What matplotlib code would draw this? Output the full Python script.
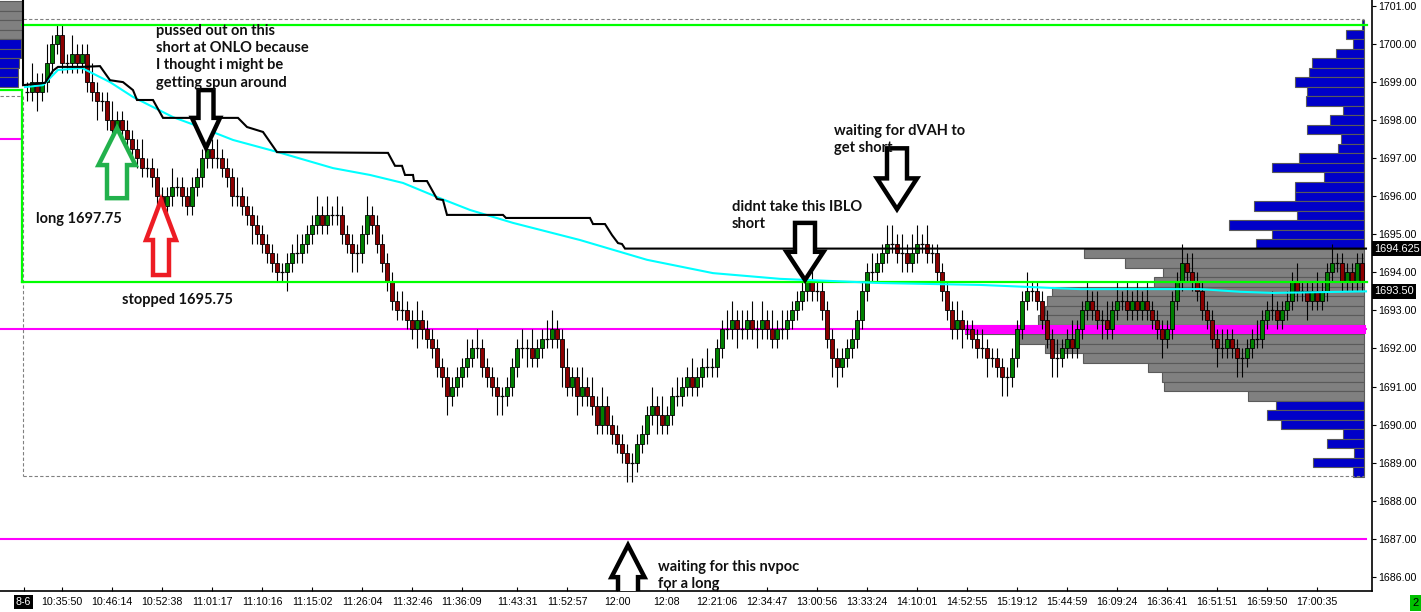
import matplotlib
matplotlib.use('Agg')
import matplotlib.pyplot as plt
from matplotlib.patches import Polygon
import matplotlib.transforms as mtransforms
import numpy as np

# ---------------- data ----------------
TICK = 0.25
first_open = 1698.75
closes = [
    1698.75, 1699.0, 1698.75, 1699.0, 1699.5, 1700.0, 1700.25, 1699.5, 1699.5, 1699.75,
    1699.5, 1699.75, 1699.0, 1698.75, 1698.5, 1698.5, 1698.0, 1697.75, 1698.0, 1697.75,
    1697.5, 1697.25, 1697.0, 1696.75, 1696.75, 1696.5, 1696.0, 1695.75, 1696.0, 1696.25,
    1696.25, 1696.0, 1695.75, 1696.25, 1696.5, 1697.0, 1697.25, 1697.0, 1697.0, 1696.75,
    1696.5, 1696.0, 1696.0, 1695.75, 1695.5, 1695.25, 1695.0, 1694.75, 1694.5, 1694.25,
    1694.0, 1694.0, 1694.25, 1694.5, 1694.5, 1694.75, 1695.0, 1695.25, 1695.5, 1695.25,
    1695.5, 1695.5, 1695.5, 1695.0, 1694.75, 1694.5, 1694.5, 1695.0, 1695.5, 1695.25,
    1694.75, 1694.25, 1693.75, 1693.25, 1693.0, 1693.0, 1692.75, 1692.5, 1692.75, 1692.5,
    1692.25, 1692.0, 1691.5, 1691.25, 1690.75, 1691.0, 1691.25, 1691.5, 1691.75, 1692.0,
    1692.0, 1691.5, 1691.25, 1691.0, 1690.75, 1690.75, 1691.0, 1691.5, 1692.0, 1692.0,
    1692.0, 1691.75, 1692.0, 1692.25, 1692.25, 1692.5, 1692.25, 1691.5, 1691.0, 1691.25,
    1690.75, 1691.0, 1690.75, 1690.5, 1690.0, 1690.5, 1690.0, 1689.75, 1689.5, 1689.25,
    1689.0, 1689.0, 1689.5, 1689.75, 1690.25, 1690.5, 1690.25, 1690.0, 1690.25, 1690.75,
    1690.75, 1691.0, 1691.25, 1691.0, 1691.25, 1691.5, 1691.5, 1691.5, 1692.0, 1692.5,
    1692.5, 1692.75, 1692.5, 1692.5, 1692.75, 1692.5, 1692.5, 1692.75, 1692.5, 1692.25,
    1692.5, 1692.5, 1692.75, 1693.0, 1693.25, 1693.5, 1693.75, 1693.5, 1693.5, 1693.0,
    1692.25, 1691.75, 1691.5, 1691.75, 1692.0, 1692.25, 1692.75, 1693.5, 1694.0, 1694.0,
    1694.25, 1694.5, 1694.75, 1694.75, 1694.5, 1694.5, 1694.25, 1694.5, 1694.75, 1694.75,
    1694.5, 1694.5, 1694.0, 1693.5, 1693.0, 1692.5, 1692.75, 1692.5, 1692.5, 1692.25,
    1692.0, 1692.0, 1691.75, 1691.75, 1691.5, 1691.25, 1691.25, 1691.75, 1692.5, 1693.25,
    1693.5, 1693.5, 1693.25, 1692.75, 1692.25, 1691.75, 1691.75, 1692.0, 1692.25, 1692.0,
    1692.5, 1693.0, 1693.25, 1693.0, 1692.75, 1692.75, 1692.5, 1693.0, 1693.25, 1693.25,
    1693.0, 1693.25, 1693.0, 1693.25, 1693.0, 1692.75, 1692.5, 1692.25, 1692.5, 1693.25,
    1693.75, 1694.25, 1694.0, 1693.75, 1693.5, 1693.0, 1692.75, 1692.25, 1692.0, 1692.0,
    1692.25, 1692.0, 1691.75, 1691.75, 1692.0, 1692.25, 1692.25, 1692.75, 1693.0, 1693.0,
    1692.75, 1693.0, 1693.25, 1693.75, 1693.5, 1693.5, 1693.25, 1693.5, 1693.25, 1693.5,
    1694.0, 1694.25, 1694.25, 1693.75, 1694.0, 1693.75, 1694.25, 1693.75,
]
# wick length above / below the body, in ticks
hi_ext = [
    1, 2, 1, 1, 2, 1, 1, 1, 1, 2,  1, 1, 1, 2, 1, 1, 1, 2, 1, 1,
    1, 1, 1, 2, 1, 1, 1, 1, 1, 2,  1, 1, 1, 1, 1, 1, 1, 1, 2, 1,
    1, 1, 2, 1, 1, 1, 1, 1, 1, 1,  1, 1, 1, 1, 2, 1, 1, 1, 2, 1,
    2, 1, 2, 1, 1, 1, 1, 1, 2, 1,  1, 1, 1, 1, 1, 2, 1, 1, 2, 1,
    1, 1, 1, 1, 1, 1, 1, 1, 2, 1,  2, 1, 1, 1, 1, 1, 1, 1, 1, 2,
    1, 2, 1, 1, 2, 2, 1, 1, 2, 1,  1, 2, 1, 2, 1, 2, 1, 1, 1, 1,
    1, 1, 1, 1, 1, 2, 1, 2, 1, 1,  2, 1, 1, 2, 1, 1, 2, 1, 1, 1,
    2, 2, 1, 2, 1, 2, 1, 2, 1, 2,  1, 2, 1, 1, 1, 1, 1, 2, 1, 1,
    1, 1, 1, 1, 1, 1, 1, 1, 1, 2,  1, 1, 2, 2, 1, 2, 1, 2, 2, 1,
    2, 1, 1, 1, 1, 1, 2, 1, 1, 1,  1, 2, 1, 1, 1, 1, 1, 1, 1, 1,
    2, 1, 1, 1, 1, 1, 2, 1, 1, 2,  1, 1, 2, 1, 2, 1, 2, 1, 2, 1,
    2, 1, 2, 1, 2, 1, 1, 1, 1, 1,  1, 2, 1, 2, 1, 1, 1, 1, 1, 2,
    1, 1, 1, 1, 1, 1, 2, 1, 1, 2,  1, 1, 1, 1, 2, 1, 1, 1, 2, 1,
    1, 2, 1, 1, 1, 1, 1, 1,
]
lo_ext = [
    1, 1, 2, 1, 1, 1, 1, 1, 1, 1,  1, 1, 1, 1, 2, 1, 1, 1, 1, 1,
    1, 1, 1, 1, 1, 1, 1, 1, 2, 1,  1, 1, 1, 1, 1, 1, 1, 1, 1, 1,
    1, 1, 1, 1, 1, 2, 1, 1, 1, 1,  1, 1, 2, 1, 1, 1, 1, 1, 1, 1,
    1, 1, 1, 1, 1, 2, 2, 1, 1, 1,  1, 1, 1, 1, 1, 1, 1, 1, 2, 1,
    1, 1, 1, 1, 2, 1, 1, 1, 1, 1,  1, 1, 1, 1, 2, 2, 1, 1, 1, 1,
    2, 1, 1, 1, 1, 1, 1, 2, 1, 1,  2, 1, 1, 1, 1, 1, 1, 1, 1, 1,
    2, 2, 1, 1, 1, 1, 2, 1, 1, 1,  1, 1, 1, 1, 1, 1, 1, 1, 1, 1,
    1, 1, 2, 1, 1, 1, 2, 1, 1, 1,  1, 1, 1, 1, 1, 1, 1, 1, 1, 1,
    1, 2, 2, 1, 1, 1, 1, 1, 1, 1,  1, 1, 1, 1, 1, 2, 1, 1, 1, 1,
    1, 1, 1, 1, 1, 1, 1, 2, 1, 1,  1, 1, 2, 1, 1, 2, 2, 1, 1, 1,
    1, 1, 1, 1, 1, 2, 2, 1, 1, 1,  1, 1, 1, 1, 1, 2, 1, 1, 1, 1,
    1, 1, 1, 1, 1, 1, 1, 2, 1, 1,  1, 1, 1, 1, 1, 1, 1, 1, 2, 1,
    1, 1, 2, 2, 1, 1, 1, 1, 1, 1,  1, 1, 1, 1, 1, 1, 2, 1, 1, 1,
    1, 1, 1, 1, 1, 1, 1, 1,
]

time_pos = [-0.7, 7, 17, 27, 37, 47, 57, 67, 77, 87, 98, 108, 118, 128, 138,
            148, 158, 168, 178, 188, 198, 208, 218, 228, 238, 248, 258]
time_labels = ['8-6', '10:35:50', '10:46:14', '10:52:38', '11:01:17', '11:10:16',
               '11:15:02', '11:26:04', '11:32:46', '11:36:09', '11:43:31', '11:52:57',
               '12:00', '12:08', '12:21:06', '12:34:47', '13:00:56', '13:33:24',
               '14:10:01', '14:52:55', '15:19:12', '15:44:59', '16:09:24', '16:36:41',
               '16:51:51', '16:59:50', '17:00:35']

# volume profile (current session)
upper_prices = [1700.5, 1700.25, 1700.0, 1699.75, 1699.5, 1699.25, 1699.0, 1698.75,
                1698.5, 1698.25, 1698.0, 1697.75, 1697.5, 1697.25, 1697.0, 1696.75,
                1696.5, 1696.25, 1696.0, 1695.75, 1695.5, 1695.25, 1695.0, 1694.75]
upper_vols = [2, 18, 11, 28, 52, 55, 69, 57, 58, 21, 34, 57, 23, 26, 65, 92,
              40, 69, 69, 110, 67, 135, 92, 108]
va_prices = [1694.5, 1694.25, 1694.0, 1693.75, 1693.5, 1693.25, 1693.0, 1692.75,
             1692.5, 1692.25, 1692.0, 1691.75, 1691.5, 1691.25, 1691.0, 1690.75]
va_vols = [280, 239, 201, 210, 312, 317, 319, 326, 399, 347, 319, 281, 216, 202, 200, 116]
lower_prices = [1690.5, 1690.25, 1690.0, 1689.75, 1689.5, 1689.25, 1689.0, 1688.75]
lower_vols = [88, 97, 83, 21, 37, 10, 51, 11]

# previous session profile (left edge, mostly off-screen)
prev_gray_prices = [1701.0, 1700.75, 1700.5, 1700.25]
prev_gray_vols = [62, 62, 62, 62]
prev_blue_prices = [1700.0, 1699.75, 1699.5, 1699.25, 1699.0]
prev_blue_vols = [61, 61, 59, 58, 58]

# levels
box_top, box_bottom = 1700.5, 1693.75       # green range box
prev_green = 1698.79
range_high, range_low = 1700.66, 1688.65     # dashed session range
prev_dash = 1698.63
prev_magenta = 1697.5
magenta_levels = [1692.5, 1687.0]
poc_price = 1692.5
poc_start = 187.6

# black step line
black_x = [-0.8, -0.8, 3.6, 5.2, 6.2, 11.0, 14.6, 16.6, 19.2, 21.2, 22.0, 25.2, 27.2,
           42.2, 44.0, 47.2, 50.0, 72.2, 73.6, 75.0, 75.6, 77.2, 77.4, 80.0, 82.0, 83.2,
           84.0, 95.2, 95.8, 112.6, 113.2, 115.6, 117.0, 118.2, 119.0, 119.6, 267.8]
black_y = [1701.2, 1698.92, 1698.98, 1699.30, 1699.40, 1699.40, 1699.42, 1699.05,
           1699.00, 1698.79, 1698.53, 1698.53, 1698.06, 1698.06, 1697.82, 1697.69,
           1697.16, 1697.14, 1696.80, 1696.80, 1696.56, 1696.56, 1696.40, 1696.40,
           1695.93, 1695.90, 1695.51, 1695.51, 1695.43, 1695.43, 1695.27, 1695.27,
           1694.98, 1694.77, 1694.745, 1694.625, 1694.625]
# cyan VWAP line
cyan_x = [-0.4, 3.2, 6.2, 11.0, 16.6, 21.2, 29.2, 34.6, 41.2, 50.2, 61.2, 68.6, 75.2,
          82.0, 88.6, 97.2, 110.6, 124.0, 137.2, 150.6, 170.6, 190.6, 210.6, 234.6,
          242.6, 249.2, 267.8]
cyan_y = [1698.87, 1698.92, 1699.32, 1699.37, 1699.00, 1698.61, 1698.08, 1697.82,
          1697.48, 1697.16, 1696.74, 1696.56, 1696.35, 1695.98, 1695.64, 1695.30,
          1694.85, 1694.33, 1693.98, 1693.83, 1693.72, 1693.67, 1693.56, 1693.56,
          1693.49, 1693.46, 1693.50]

notes = [
    (25.8, 1699.67, "pussed out on this\nshort at ONLO because\nI thought i might be\ngetting spun around"),
    (1.8, 1695.40, "long 1697.75"),
    (19.0, 1693.27, "stopped 1695.75"),
    (141.0, 1695.49, "didnt take this IBLO\nshort"),
    (161.4, 1697.49, "waiting for dVAH to\nget short"),
    (126.2, 1686.03, "waiting for this nvpoc\nfor a long"),
]
# arrows: tip x, tip price, direction (+1 up / -1 down), colour
arrows = [
    (18.0, 1697.79, +1, '#22B14C'),
    (26.8, 1695.90, +1, '#ED1C24'),
    (35.8, 1697.27, -1, 'black'),
    (155.6, 1693.80, -1, 'black'),
    (174.0, 1695.66, -1, 'black'),
    (120.2, 1686.83, +1, 'black'),
]
arrow_shape = [  # head half width, shaft half width, head length, total length
    (3.7, 2.0, 0.97, 1.84),
    (3.0, 1.6, 1.05, 1.97),
    (2.8, 1.5, 0.79, 1.52),
    (3.7, 2.0, 0.74, 1.50),
    (4.0, 2.0, 0.81, 1.60),
    (3.3, 2.0, 0.84, 1.45),
]

# ---------------- figure ----------------
W, H = 1421, 612
fig = plt.figure(figsize=(W / 100, H / 100), dpi=100)
fig.patch.set_facecolor('white')
ax = fig.add_axes([0, 21 / H, 1372 / W, 591 / H])
ax.set_facecolor('white')
XL, XR = -5.4, 269.0
ax.set_xlim(XL, XR)
ax.set_ylim(1685.626, 1701.158)

right_end = 267.8
prof_right = 267.4
vol_scale = 0.2

# previous session profile
ax.barh(prev_gray_prices, [v * vol_scale for v in prev_gray_vols], left=-13.4, height=0.25,
        color='#808080', edgecolor='#5a5a5a', lw=0.8, zorder=1)
ax.barh(prev_blue_prices, [v * vol_scale for v in prev_blue_vols], left=-13.4, height=0.25,
        color='#0000C8', edgecolor='#5a5a5a', lw=0.8, zorder=1)

# current profile
for prices, vols, col in [(upper_prices, upper_vols, '#0000C8'),
                          (va_prices, va_vols, '#808080'),
                          (lower_prices, lower_vols, '#0000C8')]:
    w = np.array(vols) * vol_scale
    ax.barh(prices, w, left=prof_right - w, height=0.25, color=col,
            edgecolor='#5a5a5a', lw=0.8, zorder=1)

# dashed session range
dash_kw = dict(color='#808080', lw=0.8, linestyle=(0, (3, 2)), zorder=2)
ax.plot([-0.8, prof_right], [range_high, range_high], **dash_kw)
ax.plot([-0.8, prof_right], [range_low, range_low], **dash_kw)
ax.plot([-0.8, -0.8], [prev_dash, range_low], **dash_kw)
ax.plot([XL, -1.0], [prev_dash, prev_dash], **dash_kw)

# magenta levels
ax.plot([XL, -1.0], [prev_magenta, prev_magenta], color='#FF00FF', lw=1.5, zorder=2)
for lv in magenta_levels:
    ax.plot([XL, right_end], [lv, lv], color='#FF00FF', lw=1.5, zorder=2)
ax.barh([poc_price], [right_end - poc_start], left=poc_start, height=0.25,
        color='#FF00FF', lw=0, zorder=2.2)

# candles
c = np.array(closes)
o = np.array([first_open] + closes[:-1])
idx = np.arange(len(c))
top = np.maximum(o, c)
bot = np.minimum(o, c)
highs = top + TICK * np.array(hi_ext)
lows = bot - TICK * np.array(lo_ext)
ax.vlines(idx, lows, highs, color='black', lw=0.8, zorder=3)
up = c > o
dn = c < o
fl = c == o
bw = 0.72
ax.bar(idx[up], (c - o)[up], bottom=o[up], width=bw, color='#008000',
       edgecolor='black', lw=0.6, zorder=3.5)
ax.bar(idx[dn], (o - c)[dn], bottom=c[dn], width=bw, color='#8B0000',
       edgecolor='black', lw=0.6, zorder=3.5)
ax.hlines(c[fl], idx[fl] - bw / 2, idx[fl] + bw / 2, color='black', lw=0.9, zorder=3.5)

# green range box
g = '#00FF00'
ax.plot([-1.0, 268.0], [box_top, box_top], color=g, lw=1.6, zorder=4)
ax.plot([-1.0, 268.0], [box_bottom, box_bottom], color=g, lw=1.6, zorder=4)
ax.plot([-1.0, -1.0], [prev_green, box_bottom], color=g, lw=1.6, zorder=4)
ax.plot([XL, -1.0], [prev_green, prev_green], color=g, lw=1.6, zorder=4)

# black step line and VWAP
ax.plot(black_x, black_y, color='black', lw=1.5, zorder=4.2, solid_joinstyle='miter')
ax.plot(cyan_x, cyan_y, color='#00FFFF', lw=1.5, zorder=4.1)

# arrows
for (x, y, d, col), (hw, sw, hl, L) in zip(arrows, arrow_shape):
    pts = [(x, y), (x + hw, y - d * hl), (x + sw, y - d * hl), (x + sw, y - d * L),
           (x - sw, y - d * L), (x - sw, y - d * hl), (x - hw, y - d * hl)]
    ax.add_patch(Polygon(pts, closed=True, facecolor='white', edgecolor=col,
                         lw=3.2, joinstyle='miter', zorder=5))

# notes
for x, y, t in notes:
    ax.text(x, y, t, fontsize=10.5, fontfamily='Lato', fontweight='bold',
            color='#111111', ha='left', va='center', linespacing=1.3, zorder=6)

# axes styling
for s in ['left', 'top']:
    ax.spines[s].set_visible(False)
for s in ['right', 'bottom']:
    ax.spines[s].set_color('black')
    ax.spines[s].set_linewidth(1.2)

ax.yaxis.tick_right()
yt = np.arange(1686, 1702, 1)
ax.set_yticks(yt)
ax.set_yticklabels(['%.2f' % v for v in yt], fontfamily='Liberation Sans', fontsize=7.7)
ax.tick_params(axis='y', direction='out', length=3, width=0.8, pad=1.5, colors='black')

ax.set_xticks(time_pos)
ax.set_xticklabels(time_labels, fontfamily='Liberation Sans', fontsize=7.7)
ax.tick_params(axis='x', direction='in', length=3, width=0.8, pad=4.5)
lab0 = ax.get_xticklabels()[0]
lab0.set_color('white')
lab0.set_bbox(dict(boxstyle='square,pad=0.18', facecolor='black', edgecolor='none'))

# price boxes on the right axis
trans = mtransforms.blended_transform_factory(ax.transAxes, ax.transData)
for val, txt in [(black_y[-1], '%.3f' % black_y[-1]), (cyan_y[-1], '%.2f' % cyan_y[-1])]:
    ax.text(1.0015, val, txt, transform=trans, fontfamily='Liberation Sans', fontsize=7.9,
            color='white', ha='left', va='center', zorder=10, clip_on=False,
            bbox=dict(boxstyle='square,pad=0.2', facecolor='black', edgecolor='none'))

fig.text(1415.5 / W, (H - 603) / H, '2', fontfamily='Liberation Sans', fontsize=8,
         color='black', ha='center', va='center',
         bbox=dict(boxstyle='square,pad=0.25', facecolor='#00C000', edgecolor='none'))

fig.savefig('out.png', dpi=100, facecolor='white')
